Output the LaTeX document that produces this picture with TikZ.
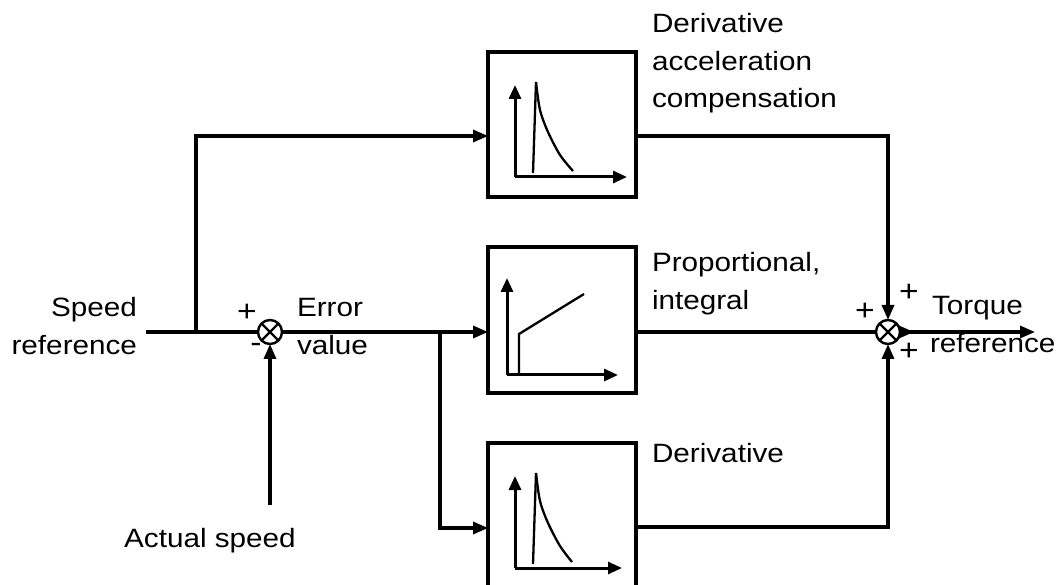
\documentclass[tikz,border=0pt]{standalone}
\usepackage{fontspec}
\setmainfont{Liberation Sans}[FakeStretch=1.12]
\usetikzlibrary{arrows.meta}
\begin{document}
\begin{tikzpicture}[x=1pt,y=-1pt,
  conn/.style={line width=3.2pt},
  arr/.style={conn,-{Triangle[length=15pt,width=12pt]}},
  blk/.style={draw,line width=3.2pt,minimum width=148pt,inner sep=0pt,outer sep=0pt},
  sumj/.style={draw,circle,line width=2.4pt,minimum size=24pt,inner sep=0pt,outer sep=0pt},
  lbl/.style={font=\fontsize{26.5}{38}\selectfont,inner sep=0pt,outer sep=0pt},
  sgn/.style={font=\fontsize{30}{36}\selectfont,inner sep=0pt,outer sep=0pt},
  plotax/.style={line width=3pt,-{Triangle[length=14pt,width=12pt]}},
  curve/.style={line width=2.3pt}]
\clip (0,0) rectangle (1061,585);
\fill[white] (0,0) rectangle (1061,585);

% blocks
\node[blk,minimum height=145pt] (top) at (562,124.5) {};
\node[blk,minimum height=146pt] (mid) at (562,320) {};
\node[blk,minimum height=150pt] (bot) at (562,518) {};

% summing junctions
\node[sumj] (s1) at (270,332) {};
\draw[line width=2.4pt] (s1.north east) -- (s1.south west) (s1.north west) -- (s1.south east);
\node[sumj] (s2) at (888,332) {};
\draw[line width=2.4pt] (s2.north east) -- (s2.south west) (s2.north west) -- (s2.south east);

% coordinates
\coordinate (in) at (146,332);
\coordinate (b1) at (196,332);
\coordinate (t1) at (196,136);
\coordinate (b2) at (440,332);
\coordinate (d1) at (440,528);
\coordinate (act) at (270,505);
\coordinate (out) at (1035,332);
\coordinate (to) at (636,136);
\coordinate (bo) at (636,527);

% connectors
\draw[conn] (in) -- (s1.west);
\draw[arr] (b1) -- (t1) -- (t1 -| top.west);
\draw[arr] (s1.east) -- (s1.east -| mid.west);
\draw[arr] (b2) -- (d1) -- (d1 -| bot.west);
\draw[arr] (act) -- (s1.south);
\draw[arr] (to) -- (to -| s2.north) -- (s2.north);
\draw[conn] (mid.east |- s2.west) -- (s2.west);
\draw[arr] (bo) -- (bo -| s2.south) -- (s2.south);
\draw[arr] (s2.east) -- ++(14,0);
\draw[arr] (s2.east) -- (out);

% plots: top
\draw[plotax] (515,177) -- (515,85);
\draw[plotax] (515,177) -- (627,177);
\draw[curve] (533,173) -- (536,82);
\draw[curve] plot[smooth] coordinates {(536,82) (540,110) (548,132) (560,155) (573,171)};
% plots: middle
\draw[plotax] (507,375) -- (507,278);
\draw[plotax] (507,375) -- (618,375);
\draw[curve] (519,375) -- (519,334) -- (584,294);
% plots: bottom
\draw[plotax] (515,568) -- (515,476);
\draw[plotax] (515,568) -- (622,568);
\draw[curve] (533,564) -- (536,473);
\draw[curve] plot[smooth] coordinates {(536,473) (540,501) (548,523) (560,546) (572,562)};

% labels
\node[lbl,anchor=base east] (sp1) at (137,317) {Speed};
\node[lbl,anchor=base east] (sp2) at (137,355) {reference};
\node[lbl,anchor=base west] (er1) at (297,317) {Error};
\node[lbl,anchor=base west] (er2) at (297,355) {value};
\node[lbl,anchor=base] (as) at (210,547) {Actual speed};
\node[lbl,anchor=base west] (dac1) at (652,33) {Derivative};
\node[lbl,anchor=base west] (dac2) at (652,71) {acceleration};
\node[lbl,anchor=base west] (dac3) at (652,108) {compensation};
\node[lbl,anchor=base west] (pi1) at (652,272) {Proportional,};
\node[lbl,anchor=base west] (pi2) at (652,310) {integral};
\node[lbl,anchor=base west] (dv) at (652,462) {Derivative};
\node[lbl,anchor=base west] (tq1) at (932,315) {Torque};
\node[lbl,anchor=base west] (tq2) at (930,353) {reference};

% signs
\node[sgn] (p1) at (247,313) {+};
\node[sgn] (m1) at (256,348) {-};
\node[sgn] (p2) at (865,312) {+};
\node[sgn] (p3) at (909,293) {+};
\node[sgn] (p4) at (909,352) {+};
\end{tikzpicture}
\end{document}
